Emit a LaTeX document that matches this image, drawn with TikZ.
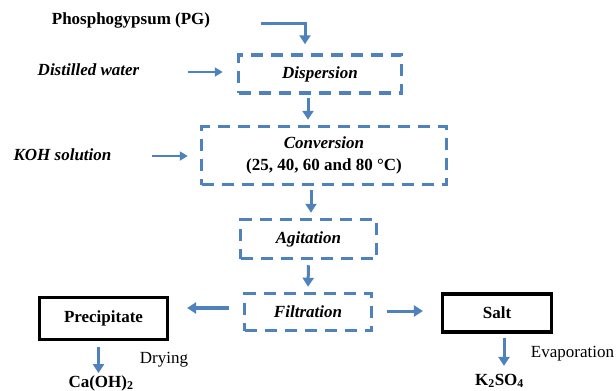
\documentclass[tikz,border=0pt]{standalone}
\usepackage{fontspec}
\setmainfont{Liberation Serif}
\usepackage{xcolor}
\usetikzlibrary{arrows.meta,positioning}
\definecolor{flowblue}{RGB}{79,129,189}

\begin{document}
\begin{tikzpicture}[
    x=1pt, y=-1pt,
    every node/.style={font=\fontsize{17}{21}\selectfont, inner sep=0pt},
    stage/.style={rectangle, draw=flowblue, line width=3.5pt, dash pattern=on 12pt off 8pt, align=center, font=\fontsize{17}{21}\selectfont\bfseries\itshape},
    product/.style={rectangle, draw=black, line width=3.2pt, align=center, font=\fontsize{17}{21}\selectfont\bfseries},
    feed/.style={font=\fontsize{17}{21}\selectfont\bfseries\itshape},
    flow/.style={-{Triangle[length=9pt,width=11pt]}, draw=flowblue, line width=3pt},
    thin flow/.style={-{Triangle[length=8pt,width=9pt]}, draw=flowblue, line width=2.2pt}
]
    \useasboundingbox (0,0) rectangle (616,391);

    % Inputs
    \node[font=\fontsize{17}{21}\selectfont\bfseries] (pg) at (131,20) {Phosphogypsum (PG)};
    \node[feed] (water) at (88.5,70) {Distilled water};
    \node[feed] (koh) at (62.5,155) {KOH solution};

    % Process stages
    \node[stage, minimum width=163pt, minimum height=38pt] (disp) at (320,74) {Dispersion};
    \node[stage, minimum width=245pt, minimum height=58pt] (conv) at (324,155.5) {Conversion\\[1pt]\upshape(25, 40, 60 and 80 °C)};
    \node[stage, minimum width=136pt, minimum height=39pt] (agit) at (308.5,239) {Agitation};
    \node[stage, minimum width=127pt, minimum height=37pt] (filt) at (308,312) {Filtration};

    % Products
    \node[product, minimum width=128pt, minimum height=42pt] (prec) at (103.5,318.5) {Precipitate};
    \node[product, minimum width=109pt, minimum height=38pt] (salt) at (497,313) {Salt};
    \node[font=\fontsize{17}{21}\selectfont\bfseries] (caoh) at (101,383) {Ca(OH)\textsubscript{2}};
    \node[font=\fontsize{17}{21}\selectfont\bfseries] (kso) at (499.5,381) {K\textsubscript{2}SO\textsubscript{4}};
    \node (dry) at (164,360) {Drying};
    \node (evap) at (572.5,354) {Evaporation};

    % Arrows
    \coordinate (pgtail) at (261,23);
    \coordinate (wtail) at (188,72);
    \coordinate (ktail) at (152,156);
    \draw[flow, shorten >=9pt] (pgtail) -| ([xshift=-15pt]disp.north);
    \draw[thin flow, shorten >=14pt] (wtail) -- (wtail -| disp.west);
    \draw[thin flow, shorten >=12pt] (ktail) -- (ktail -| conv.west);
    \draw[flow, shorten <=3pt, shorten >=5pt] ([xshift=-12pt]disp.south) -- ([xshift=-12pt]disp.south |- conv.north);
    \draw[flow, shorten <=4pt, shorten >=5pt] ([xshift=2.5pt]agit.north |- conv.south) -- ([xshift=2.5pt]agit.north);
    \draw[flow, shorten <=5pt, shorten >=5pt] (agit.south) -- (filt.north);
    \draw[flow, line width=3.6pt, shorten <=14pt, shorten >=18pt] ([yshift=4pt]filt.west) -- ([yshift=4pt]filt.west -| prec.east);
    \draw[flow, shorten <=14pt, shorten >=18pt] ([yshift=1pt]filt.east) -- ([yshift=1pt]filt.east -| salt.west);
    \draw[flow, shorten <=6pt, shorten >=2pt] ([xshift=-5pt]prec.south) -- ([xshift=-5pt]prec.south |- caoh.north);
    \draw[flow, shorten <=4pt, shorten >=8pt] ([xshift=7pt]salt.south) -- ([xshift=7pt]salt.south |- kso.north);
\end{tikzpicture}
\end{document}
